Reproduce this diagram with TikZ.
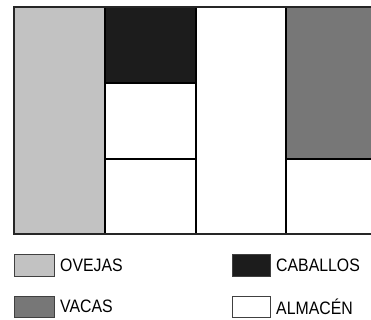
\documentclass[tikz,border=0pt]{standalone}
\usepackage{fontspec}
\setmainfont[FakeStretch=0.88]{Liberation Sans}
\definecolor{oveja}{HTML}{C2C2C2}
\definecolor{caballo}{HTML}{1C1C1C}
\definecolor{vaca}{HTML}{777777}
\tikzset{
  cell/.style={draw=black, line width=1.4pt},
  swatch/.style={draw=black!75, line width=0.9pt},
  lbl/.style={anchor=west, inner sep=0pt, font=\fontsize{18}{18}\selectfont},
}
\begin{document}
\begin{tikzpicture}[x=1pt,y=-1pt]
\useasboundingbox (0,0) rectangle (371,320);
% chart
\fill[oveja] (14,7) rectangle (105,234);
\fill[caballo] (105,7) rectangle (196,83);
\fill[vaca] (286,7) rectangle (377,159);
\draw[cell] (105,83) -- (196,83);
\draw[cell] (105,159) -- (196,159);
\draw[cell] (286,159) -- (377,159);
\draw[cell] (105,7) -- (105,234);
\draw[cell] (196,7) -- (196,234);
\draw[cell] (286,7) -- (286,234);
\draw[draw=black!85, line width=1.8pt] (14,7) rectangle (377,234);
% legend
\draw[swatch, fill=oveja] (14,254) rectangle (54,276);
\node[lbl] (ovejas) at (60,265.5) {OVEJAS};
\draw[swatch, fill=vaca] (14,296) rectangle (54,317);
\node[lbl] (vacas) at (60,306.5) {VACAS};
\draw[swatch, fill=caballo] (232,254) rectangle (270,276);
\node[lbl] (caballos) at (276,265.5) {CABALLOS};
\draw[swatch, fill=white] (232,296) rectangle (270,317);
\node[lbl] (almacen) at (276,306.5) {ALMACÉN};
\end{tikzpicture}
\end{document}
